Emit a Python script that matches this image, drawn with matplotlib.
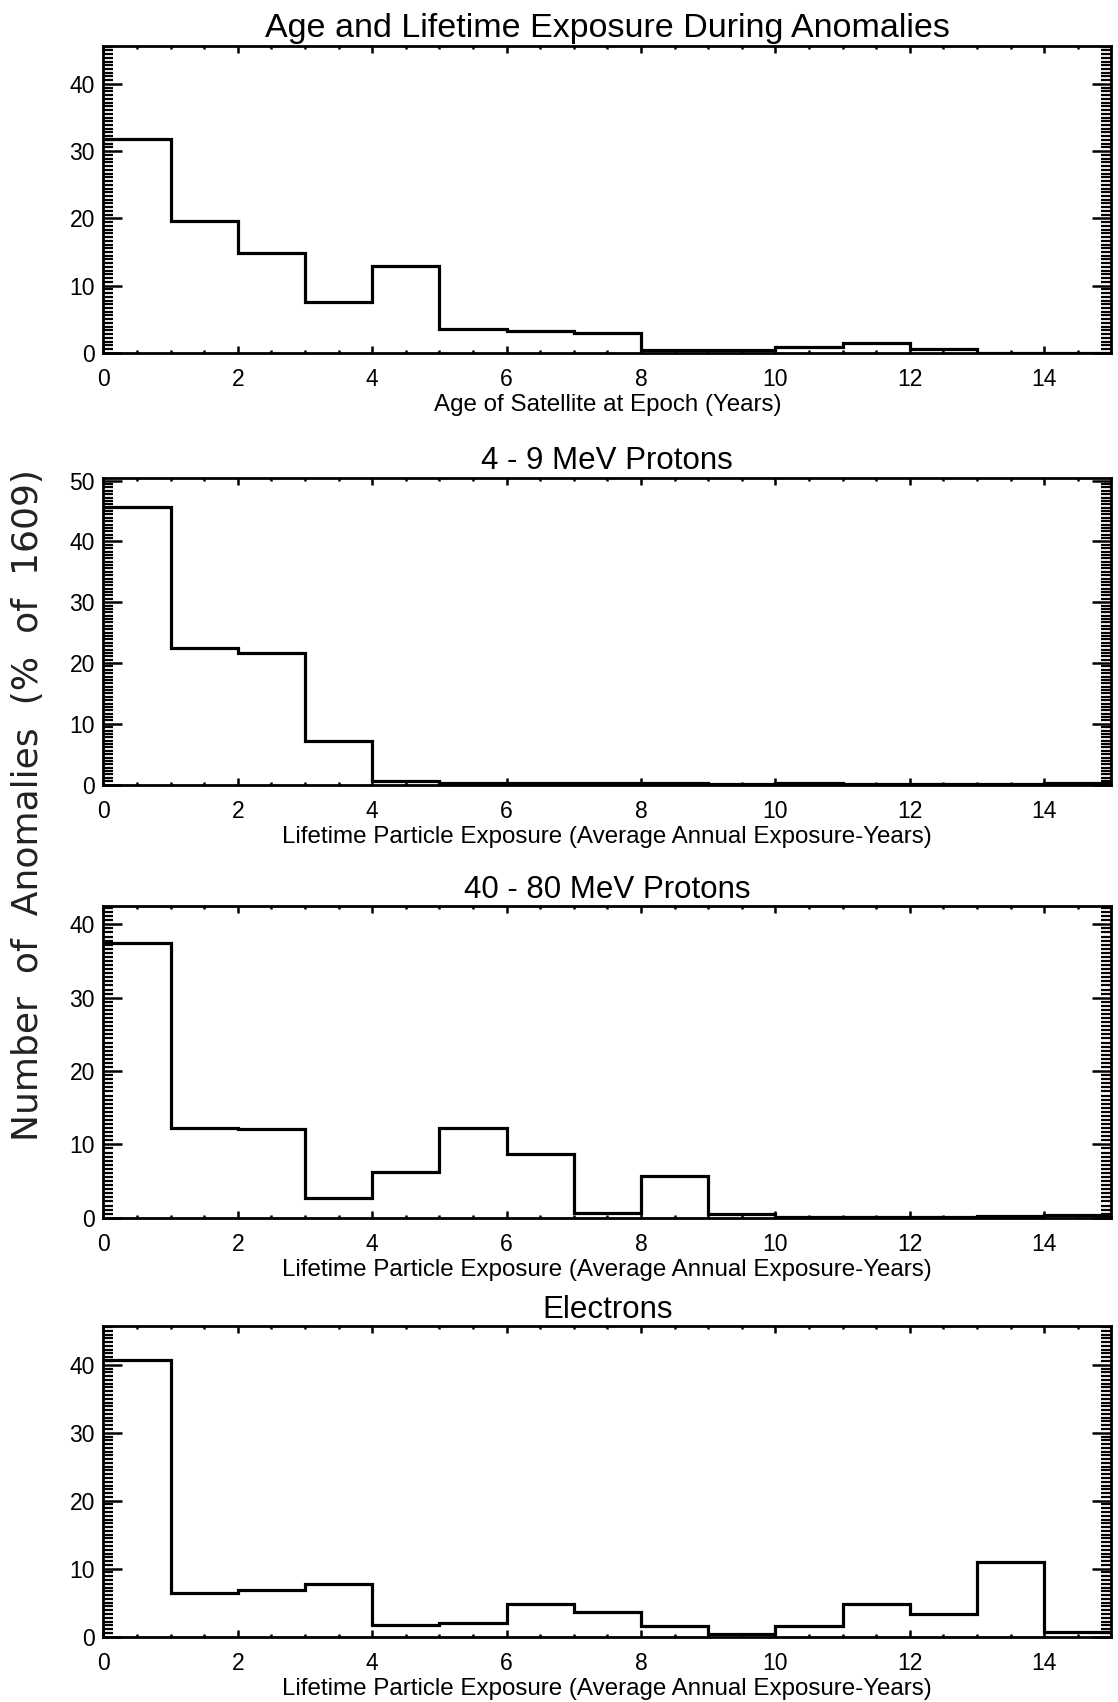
import matplotlib
matplotlib.use('Agg')
import matplotlib.pyplot as plt
from matplotlib.ticker import MultipleLocator, AutoMinorLocator

plt.rcParams['font.family'] = ['Liberation Sans', 'DejaVu Sans']

edges = list(range(0, 16))  # bin edges, 1 unit wide, 0..15

# percentages of the 1609 anomalies per bin
age = [31.8, 19.6, 14.8, 7.6, 12.9, 3.5, 3.2, 2.9, 0.35, 0.35, 0.8, 1.4, 0.5, 0.0, 0.0]
p4_9 = [45.7, 22.5, 21.6, 7.1, 0.55, 0.25, 0.3, 0.3, 0.3, 0.1, 0.2, 0.1, 0.1, 0.1, 0.2]
p40_80 = [37.5, 12.2, 12.05, 2.7, 6.3, 12.2, 8.7, 0.6, 5.7, 0.5, 0.05, 0.05, 0.1, 0.2, 0.35]
electrons = [40.7, 6.4, 6.9, 7.8, 1.7, 2.0, 4.8, 3.6, 1.5, 0.4, 1.55, 4.8, 3.4, 11.0, 0.7]

titles = ['Age and Lifetime Exposure During Anomalies', '4 - 9 MeV Protons',
          '40 - 80 MeV Protons', 'Electrons']
title_sizes = [24.5, 22.5, 22.5, 22.5]
xlabels = ['Age of Satellite at Epoch (Years)',
           'Lifetime Particle Exposure (Average Annual Exposure-Years)',
           'Lifetime Particle Exposure (Average Annual Exposure-Years)',
           'Lifetime Particle Exposure (Average Annual Exposure-Years)']
ytops = [45.7, 50.5, 42.5, 45.7]
series = [age, p4_9, p40_80, electrons]

# axes boxes [left, bottom, width, height] in figure fractions
boxes = [[0.0925, 0.7927, 0.9015, 0.1805],
         [0.0925, 0.5390, 0.9015, 0.1804],
         [0.0925, 0.2845, 0.9015, 0.1832],
         [0.0925, 0.0384, 0.9015, 0.1825]]

fig = plt.figure(figsize=(11.18, 17.02), dpi=100)

for i in range(4):
    ax = fig.add_axes(boxes[i])
    ax.stairs(series[i], edges, color='black', linewidth=2.3, baseline=None)
    ax.set_xlim(0, 15)
    ax.set_ylim(0, ytops[i])
    ax.xaxis.set_major_locator(MultipleLocator(2))
    ax.xaxis.set_minor_locator(MultipleLocator(0.5))
    ax.yaxis.set_major_locator(MultipleLocator(10))
    ax.yaxis.set_minor_locator(AutoMinorLocator(18))
    ax.tick_params(axis='both', which='both', direction='in', top=True, right=True,
                   labelsize=16.5)
    ax.tick_params(axis='x', which='major', length=5, width=1.8, pad=11)
    ax.tick_params(axis='x', which='minor', length=2.5, width=1.8)
    ax.tick_params(axis='y', which='major', length=14, width=1.8, pad=6)
    ax.tick_params(axis='y', which='minor', length=7, width=1.6)
    for s in ax.spines.values():
        s.set_linewidth(2)
    ax.set_title(titles[i], fontsize=title_sizes[i], pad=6)
    ax.set_xlabel(xlabels[i], fontsize=17.4, labelpad=2)

fig.text(0.025, 0.527, 'Number  of  Anomalies  (%  of  1609)', rotation=90,
         ha='center', va='center', fontsize=26, family='DejaVu Sans', color='#222222')

plt.savefig('out.png', dpi=100)
